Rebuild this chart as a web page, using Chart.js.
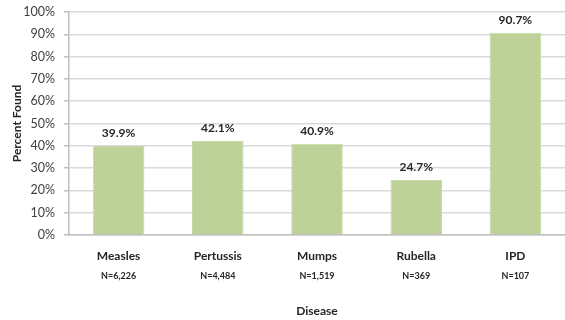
<!DOCTYPE html>
<html>
<head>
<meta charset="utf-8">
<script src="https://cdn.jsdelivr.net/npm/chart.js@4"></script>
<style>
  html, body { margin: 0; padding: 0; background: #fff; }
  #wrap { width: 565px; height: 320px; }
</style>
</head>
<body>
<div id="wrap"><canvas id="c" width="565" height="320"></canvas></div>
<script>
// Share of cases found, by disease
const diseases = ['Measles', 'Pertussis', 'Mumps', 'Rubella', 'IPD'];
const caseCounts = ['N=6,226', 'N=4,484', 'N=1,519', 'N=369', 'N=107'];
const percentFound = [39.9, 42.1, 40.9, 24.7, 90.7];
const yTicks = [0, 10, 20, 30, 40, 50, 60, 70, 80, 90, 100];

const FONT = 'Lato, "Open Sans", sans-serif';
const TEXT = '#262626';

// Bold value labels above each bar
const valueLabels = {
  id: 'valueLabels',
  afterDatasetsDraw(chart) {
    const ctx = chart.ctx;
    const meta = chart.getDatasetMeta(0);
    ctx.save();
    ctx.font = 'bold 12px ' + FONT;
    ctx.fillStyle = TEXT;
    ctx.textAlign = 'center';
    ctx.textBaseline = 'bottom';
    meta.data.forEach((bar, i) => {
      ctx.fillText(percentFound[i].toFixed(1) + '%', bar.x, bar.y - 7);
    });
    ctx.restore();
  }
};

new Chart(document.getElementById('c'), {
  type: 'bar',
  data: {
    labels: diseases,
    datasets: [{
      data: percentFound,
      backgroundColor: '#bdd198',
      borderColor: '#c9daa9',
      borderWidth: 1,
      barPercentage: 0.52,
      categoryPercentage: 1.0
    }]
  },
  options: {
    responsive: false,
    animation: false,
    devicePixelRatio: 1,
    layout: { padding: { top: 0, right: 0, left: 10, bottom: 0 } },
    plugins: { legend: { display: false }, tooltip: { enabled: false } },
    scales: {
      y: {
        min: 0, max: 100,
        afterBuildTicks(scale) { scale.ticks = yTicks.map(v => ({ value: v })); },
        afterFit(scale) { scale.width = 59; scale.paddingTop = 12; },
        ticks: {
          callback: v => v + '%',
          font: { family: FONT, size: 12.5 },
          color: '#404040',
          padding: 9
        },
        grid: { color: '#d9d9d9', lineWidth: 1.5, tickLength: 5, tickColor: '#bfbfbf' },
        border: { color: '#bfbfbf', width: 1.5 },
        title: {
          display: true,
          text: 'Percent Found',
          font: { family: FONT, size: 12, weight: 'bold' },
          color: TEXT,
          padding: { top: 0, bottom: 0 }
        }
      },
      x: {
        position: 'bottom',
        afterFit(scale) { scale.height = 30; },
        ticks: {
          font: { family: FONT, size: 12, weight: 'bold' },
          color: TEXT,
          padding: 14,
          maxRotation: 0
        },
        grid: { display: false, drawTicks: false },
        border: { color: '#bfbfbf', width: 1.5 }
      },
      x2: {
        type: 'category',
        position: 'bottom',
        labels: caseCounts,
        offset: true,
        afterFit(scale) { scale.height = 55; },
        ticks: {
          font: { family: FONT, size: 9, weight: 'bold' },
          color: TEXT,
          padding: 6,
          maxRotation: 0
        },
        grid: { display: false, drawTicks: false },
        border: { display: false },
        title: {
          display: true,
          text: 'Disease',
          font: { family: FONT, size: 12, weight: 'bold' },
          color: TEXT,
          padding: { top: 0, bottom: 2 }
        }
      }
    }
  },
  plugins: [valueLabels]
});
</script>
</body>
</html>
